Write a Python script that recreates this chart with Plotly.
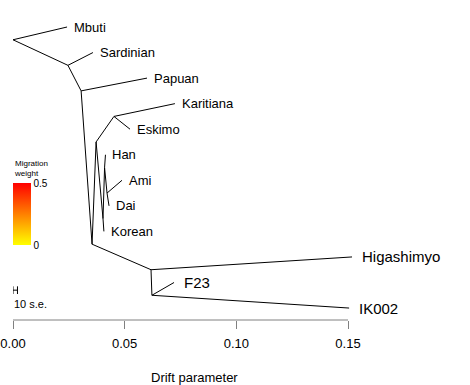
import plotly.graph_objects as go

# ---------------- data ----------------
# tree vertices (TreeMix-style): name, parent, drift (x)
node_names = ["root", "A", "Mbuti", "Sardinian", "B", "Papuan", "C", "F", "G",
              "Karitiana", "Eskimo", "K", "H", "Han", "J", "Ami", "Dai", "Korean",
              "D", "Higashimyo", "E", "F23", "IK002"]
node_parent = [None, "root", "root", "A", "A", "B", "B", "C", "F",
               "G", "G", "F", "K", "H", "H", "J", "J", "K",
               "C", "D", "D", "E", "E"]
node_drift = [0.0, 0.0246, 0.0242, 0.0358, 0.0305, 0.0600, 0.0354, 0.0372, 0.0452,
              0.0725, 0.0524, 0.0403, 0.0410, 0.0414, 0.0421, 0.0488, 0.0430, 0.0407,
              0.0618, 0.1518, 0.0622, 0.0721, 0.1505]
# child order under each internal node (top child first)
root_children_order = ["Mbuti", "A"]
big_labels = ["Higashimyo", "F23", "IK002"]

tick_vals = [0.0, 0.05, 0.10, 0.15]
tick_text = ["0.00", "0.05", "0.10", "0.15"]
mig_range = [0.0, 0.5]
mig_tick_text = ["0", "0.5"]
se_bar_length = 0.002   # 10 s.e.

# ---------------- tree layout ----------------
drift = dict(zip(node_names, node_drift))
parent = dict(zip(node_names, node_parent))
children = {n: [] for n in node_names}
for n, p in zip(node_names, node_parent):
    if p is not None:
        children[p].append(n)
children["root"] = root_children_order

leaf_order = []
def collect(n):
    if not children[n]:
        leaf_order.append(n)
        return
    for c in children[n]:
        collect(c)
collect("root")
leaf_idx = {n: i for i, n in enumerate(leaf_order)}

def leaves_of(n):
    if not children[n]:
        return [n]
    out = []
    for c in children[n]:
        out += leaves_of(c)
    return out

ypos = {}
for n in node_names:
    if not children[n]:
        ypos[n] = leaf_idx[n]
    else:
        c1, c2 = children[n]
        ypos[n] = (max(leaf_idx[l] for l in leaves_of(c1)) +
                   min(leaf_idx[l] for l in leaves_of(c2))) / 2.0

ex, ey = [], []
for n in node_names:
    p = parent[n]
    if p is None:
        continue
    ex += [drift[p], drift[n], None]
    ey += [ypos[p], ypos[n], None]

FONT = "Liberation Sans, Arial, Helvetica, sans-serif"
W, H = 470, 385
L, R, T, B = 13, 0, 0, 65
PH = H - T - B
PW = W - L - R
px_per_unit = 335 / 0.15
x_range = [0, PW / px_per_unit]
y0_px, step_px = 27, 25.55
y_range = [(PH - y0_px) / step_px, -y0_px / step_px]

fig = go.Figure()
fig.add_trace(go.Scatter(x=ex, y=ey, mode="lines",
                         line=dict(color="black", width=1),
                         hoverinfo="skip", showlegend=False))

# scale bar (10 s.e.)
bar_y = 10.3
cap = 0.15
fig.add_trace(go.Scatter(
    x=[0, se_bar_length, None, 0, 0, None, se_bar_length, se_bar_length],
    y=[bar_y, bar_y, None, bar_y - cap, bar_y + cap, None, bar_y - cap, bar_y + cap],
    mode="lines", line=dict(color="black", width=1), hoverinfo="skip", showlegend=False))

# migration weight colour bar
fig.add_trace(go.Scatter(
    x=[None], y=[None], mode="markers", showlegend=False,
    marker=dict(color=[0], cmin=mig_range[0], cmax=mig_range[1],
                colorscale=[[0, "#FFFF00"], [1, "#FF0000"]], showscale=True,
                colorbar=dict(
                    xref="paper", yref="paper",
                    x=0, xanchor="left", y=(PH - 183) / PH, yanchor="top",
                    thickness=18, thicknessmode="pixels",
                    len=62, lenmode="pixels", xpad=0, ypad=0,
                    outlinewidth=0, ticks="",
                    tickvals=mig_range, ticktext=mig_tick_text,
                    tickfont=dict(family=FONT, size=10, color="black"),
                ))))

annotations = []
for n in leaf_order:
    big = n in big_labels
    annotations.append(dict(
        x=drift[n], y=ypos[n], xref="x", yref="y", text=n, showarrow=False,
        xanchor="left", yanchor="middle", xshift=8 if big else 5,
        font=dict(family=FONT, size=15 if big else 13, color="black")))
annotations.append(dict(x=0, y=bar_y + 0.55, xref="x", yref="y", text="10 s.e.",
                        showarrow=False, xanchor="left", yanchor="middle", xshift=-1,
                        font=dict(family=FONT, size=11, color="black")))
annotations.append(dict(x=0, y=(PH - 168) / PH, xref="x", yref="paper",
                        text="Migration<br>weight", showarrow=False, align="left",
                        xanchor="left", yanchor="middle", xshift=-1,
                        font=dict(family=FONT, size=8, color="black")))
annotations.append(dict(x=(194 - L) / PW, y=(PH - 377) / PH, xref="paper",
                        yref="paper", text="Drift parameter", showarrow=False,
                        xanchor="center", yanchor="middle",
                        font=dict(family=FONT, size=13, color="black")))

fig.add_shape(type="line", xref="x", yref="paper", x0=tick_vals[0], x1=tick_vals[-1],
              y0=0, y1=0, line=dict(color="#808080", width=1))

fig.update_layout(
    width=W, height=H, margin=dict(l=L, r=R, t=T, b=B, autoexpand=False),
    paper_bgcolor="white", plot_bgcolor="white",
    font=dict(family=FONT, color="black"),
    annotations=annotations,
    xaxis=dict(range=x_range, showgrid=False, zeroline=False, showline=False,
               tickvals=tick_vals, ticktext=tick_text, ticks="outside", ticklen=8,
               tickcolor="#808080", tickwidth=1, automargin=False,
               ticklabelstandoff=3,
               tickfont=dict(family=FONT, size=13, color="black")),
    yaxis=dict(range=y_range, visible=False, showgrid=False, zeroline=False,
               automargin=False),
)

fig.write_html("out.html", config={"displayModeBar": False},
               post_script="document.body.style.margin='0';document.body.style.overflow='hidden';")
